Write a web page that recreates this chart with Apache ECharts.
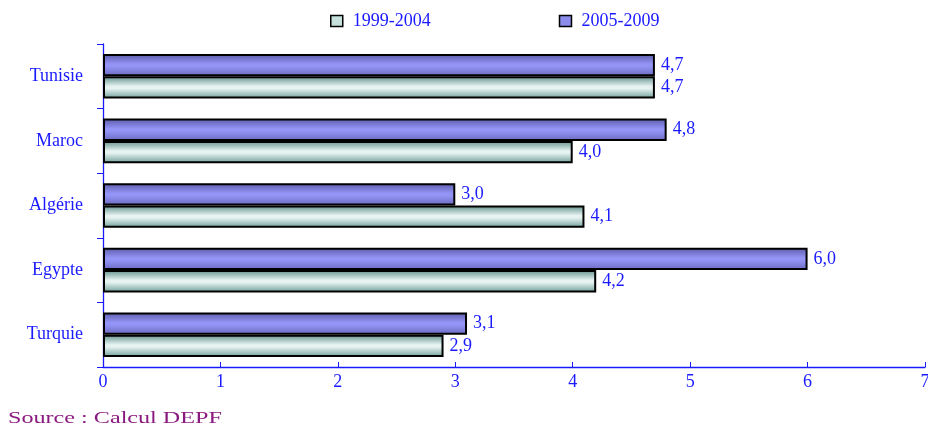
<!DOCTYPE html>
<html>
<head>
<meta charset="utf-8">
<script src="https://cdn.jsdelivr.net/npm/echarts@6/dist/echarts.min.js"></script>
<style>
html,body{margin:0;padding:0;background:#fff;}
#chart{width:928px;height:428px;}
</style>
</head>
<body>
<div id="chart"></div>
<script>
// Countries, listed bottom to top along the category axis
const countries = ['Turquie', 'Egypte', 'Algérie', 'Maroc', 'Tunisie'];
const seriesNames = ['1999-2004', '2005-2009'];
const values1999 = [2.9, 4.2, 4.1, 4.0, 4.7];
const values2005 = [3.1, 6.0, 3.0, 4.8, 4.7];
const xTicks = [0, 1, 2, 3, 4, 5, 6, 7];

const blue = '#1a1aff';
const font = '"Liberation Serif", "DejaVu Serif", serif';

function barGradient(edgeTop, mid, edgeBottom) {
  return new echarts.graphic.LinearGradient(0, 0, 0, 1, [
    { offset: 0, color: edgeTop },
    { offset: 0.45, color: mid },
    { offset: 0.55, color: mid },
    { offset: 1, color: edgeBottom }
  ]);
}

const greenFill = barGradient('#5f8f8a', '#e6f3f1', '#6e9e98');
const purpleFill = barGradient('#5a5aa8', '#9494f6', '#6a6ac0');

const valueLabel = {
  show: true, position: 'right', distance: 6,
  color: blue, fontSize: 18, fontFamily: font,
  formatter: p => p.value.toFixed(1).replace('.', ',')
};

const chart = echarts.init(document.getElementById('chart'));
chart.setOption({
  animation: false,
  backgroundColor: '#fff',
  textStyle: { fontFamily: font },
  legend: {
    top: 7,
    left: 325,
    itemWidth: 12,
    itemHeight: 11,
    itemGap: 128,
    textStyle: { color: blue, fontSize: 18, fontFamily: font, padding: [0, 0, 0, 5] },
    data: [
      { name: seriesNames[0], icon: 'rect', itemStyle: { color: '#c6e0dc', borderColor: '#000', borderWidth: 1.5 } },
      { name: seriesNames[1], icon: 'rect', itemStyle: { color: '#8c8cec', borderColor: '#000', borderWidth: 1.5 } }
    ]
  },
  grid: { left: 103, right: 3, top: 44, bottom: 61, containLabel: false, outerBoundsMode: 'none' },
  xAxis: {
    type: 'value',
    min: xTicks[0],
    max: xTicks[xTicks.length - 1],
    interval: 1,
    axisLine: { show: true, lineStyle: { color: blue, width: 1.3 } },
    axisTick: { show: true, inside: true, length: 5, lineStyle: { color: blue } },
    axisLabel: { color: blue, fontSize: 18, fontFamily: font, margin: 6 },
    splitLine: { show: false }
  },
  yAxis: {
    type: 'category',
    data: countries,
    axisLine: { show: true, lineStyle: { color: blue, width: 1.3 } },
    axisTick: { show: true, length: 6, alignWithLabel: false, lineStyle: { color: blue } },
    axisLabel: { color: blue, fontSize: 18, fontFamily: font, margin: 20 }
  },
  // Later period listed first so it sits on top within each country group
  series: [
    {
      name: seriesNames[1],
      type: 'bar',
      data: values2005,
      barGap: '0%',
      barCategoryGap: '31%',
      itemStyle: { color: purpleFill, borderColor: '#000', borderWidth: 2 },
      label: valueLabel
    },
    {
      name: seriesNames[0],
      type: 'bar',
      data: values1999,
      barGap: '0%',
      barCategoryGap: '31%',
      itemStyle: { color: greenFill, borderColor: '#000', borderWidth: 2 },
      label: valueLabel
    }
  ],
  graphic: [{
    type: 'text',
    left: 8,
    top: 410,
    scaleX: 1.42,
    style: {
      text: 'Source : Calcul DEPF',
      fill: '#8a1a80',
      fontSize: 17,
      fontFamily: font
    }
  }]
});
</script>
</body>
</html>
